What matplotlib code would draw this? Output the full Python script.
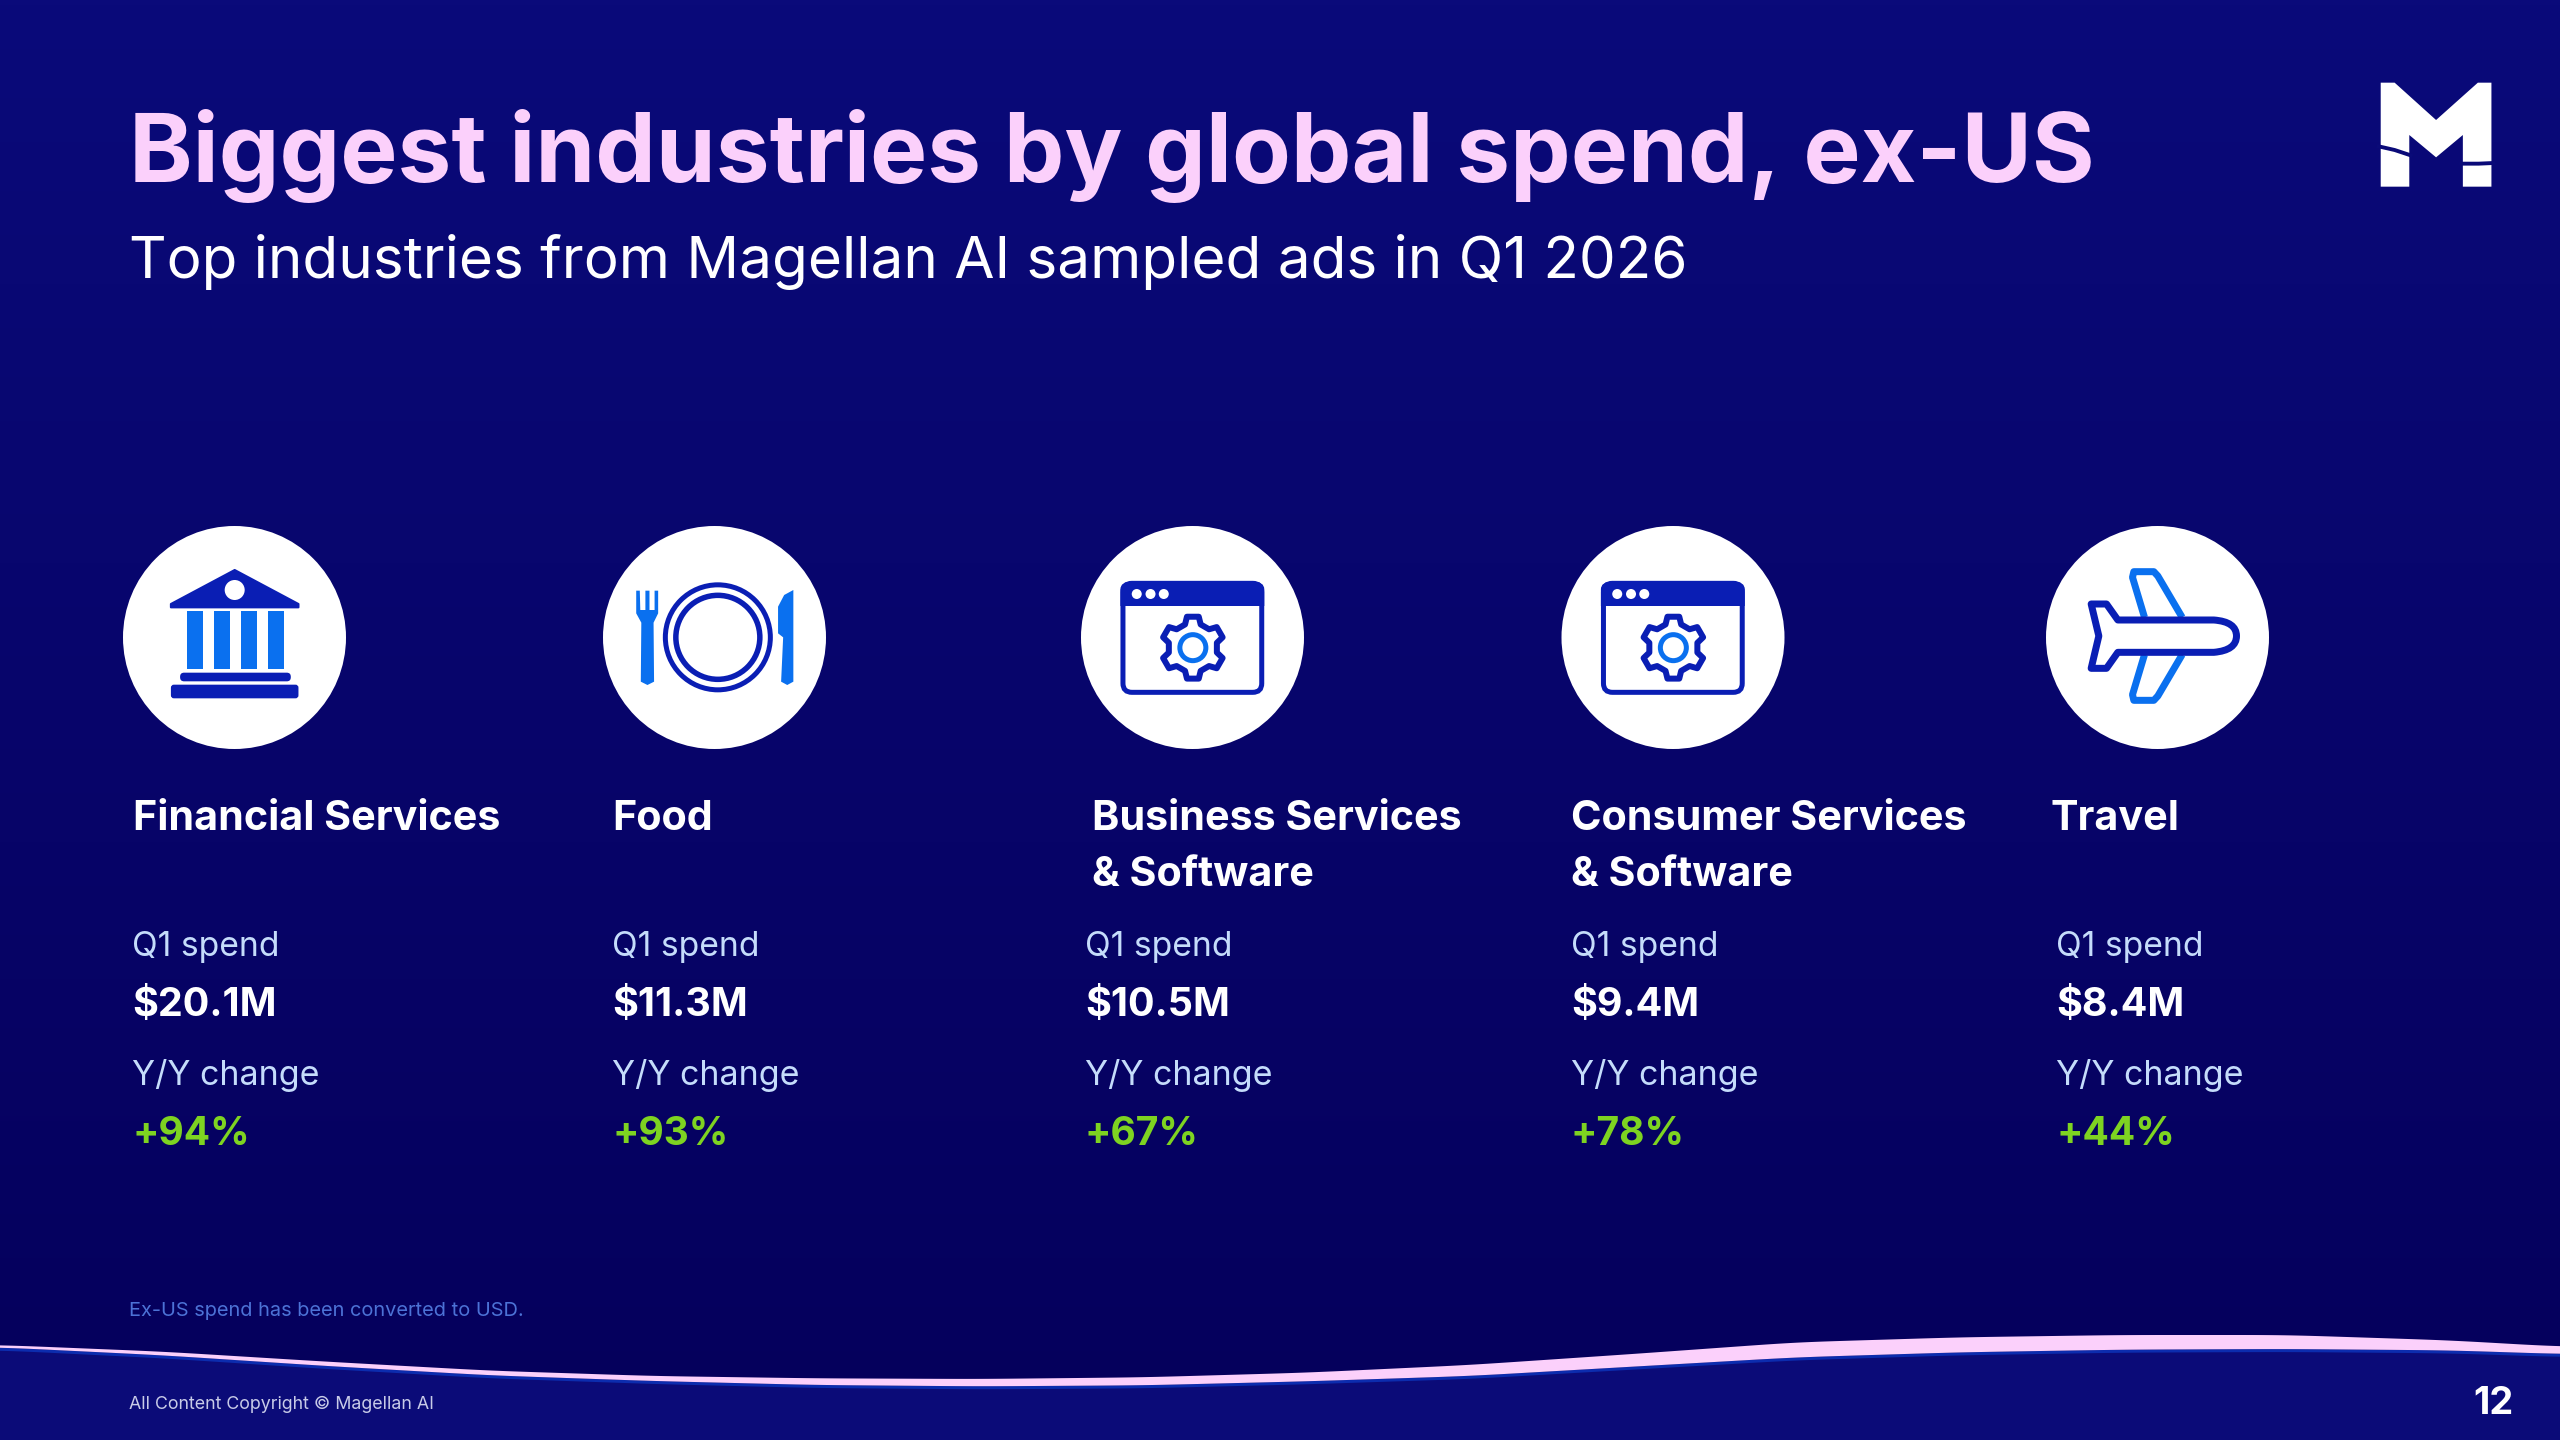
import numpy as np
import matplotlib
matplotlib.use("Agg")
import matplotlib.pyplot as plt
from matplotlib.patches import Circle, Ellipse, Polygon, PathPatch, FancyBboxPatch, Rectangle
from matplotlib.path import Path

# ---------- data ----------
title = "Biggest industries by global spend, ex-US"
subtitle = "Top industries from Magellan AI sampled ads in Q1 2026"
industries = ["Financial Services", "Food", "Business Services\n& Software",
              "Consumer Services\n& Software", "Travel"]
q1_spend_musd = [20.1, 11.3, 10.5, 9.4, 8.4]
yoy_change_pct = [94, 93, 67, 78, 44]
footnote = "Ex-US spend has been converted to USD."
copyright_text = "All Content Copyright © Magellan AI"
page_number = "12"

# ---------- layout (pixels) ----------
W, H = 2560, 1440
circle_cx = [234.5, 714.5, 1192.5, 1673, 2157.5]
name_x = [133, 612, 1092, 1571, 2050]
stat_x = [132, 612, 1085, 1571, 2056]
FONT = "Inter"
BG_TOP, BG_BOTTOM = (10, 10, 122), (5, 0, 92)
FOOT_BG = "#0b0b78"
PINK = "#fbd0fb"
DARK = "#0a1eb4"
LIGHT = "#0a70ef"
GREEN = "#7ed321"
SOFT = "#c5dcfb"

fig = plt.figure(figsize=(25.6, 14.4), dpi=100)
ax = fig.add_axes([0, 0, 1, 1])
ax.set_xlim(0, W)
ax.set_ylim(H, 0)
ax.axis("off")
PX = 0.72  # points per pixel


def fs(px):
    return px * PX


# background gradient
grad = np.linspace(0, 1, 256)[:, None, None]
img = (np.array(BG_TOP) * (1 - grad) + np.array(BG_BOTTOM) * grad) / 255
ax.imshow(img, extent=[0, W, 1400, 0], aspect="auto", zorder=0)
ax.set_xlim(0, W)
ax.set_ylim(H, 0)

# footer wave
wx = np.array([0, 100, 200, 300, 400, 500, 600, 700, 800, 900, 1000, 1100, 1200, 1300, 1400, 1500, 1568]) * 2560 / 1568
wt = 1270 + np.array([225, 245, 275, 302, 318, 325, 327, 322, 308, 285, 252, 217, 202, 195, 195, 211, 230]) / 3
wb = 1270 + np.array([232, 256, 288, 316, 333, 345, 349, 346, 334, 318, 290, 262, 247, 239, 237, 241, 252]) / 3
xs = np.linspace(0, W, 400)
top = np.interp(xs, wx, wt)
bot = np.interp(xs, wx, wb)
k = np.hanning(21); k /= k.sum()
pad = lambda a: np.convolve(np.r_[np.full(10, a[0]), a, np.full(10, a[-1])], k, mode="valid")
top, bot = pad(top), pad(bot)
ax.fill_between(xs, bot, H, color=FOOT_BG, lw=0, zorder=1)
ax.fill_between(xs, bot, bot + 3, color="#0c2cae", lw=0, zorder=1.5)
ax.fill_between(xs, top, bot, color=PINK, lw=0, zorder=2)


def txt(x, y, s, px, color="white", weight="normal", **kw):
    return ax.text(x, y, s, fontsize=fs(px), color=color, fontweight=weight, family=FONT,
                   va="baseline", ha=kw.pop("ha", "left"), zorder=10, **kw)


# logo
def lx(v): return 2000 + v / 2.8
def ly(v): return 40 + v / 3


m = [(1066, 440), (1146, 440), (1146, 285), (1221, 352), (1296, 285), (1296, 440), (1376, 440),
     (1376, 128), (1338, 128), (1221, 240), (1105, 128), (1066, 128)]
ax.add_patch(Polygon([(lx(a), ly(b)) for a, b in m], closed=True, fc="white", lw=0, zorder=5))
ax.plot([lx(1060), lx(1105), lx(1150)], [ly(319), ly(330), ly(346)], color="#0a0a78", lw=2.8, zorder=6)
ax.plot([lx(1292), lx(1340), lx(1382)], [ly(371), ly(371), ly(369)], color="#0a0a78", lw=2.8, zorder=6)


def rrect(x0, y0, x1, y1, r, **kw):
    return FancyBboxPatch((x0 + r, y0 + r), x1 - x0 - 2 * r, y1 - y0 - 2 * r,
                          boxstyle=f"round,pad={r},rounding_size={r}", **kw)


def bank(cx, cy):
    ox, oy = cx - 234, cy - 637.5
    X = lambda v: 100 + v / 1.96 + ox
    Y = lambda v: 500 + v / 3 + oy
    ax.add_patch(Polygon([(X(263), Y(210)), (X(388), Y(312)), (X(388), Y(322)), (X(138), Y(322)), (X(138), Y(312))],
                         closed=True, fc=DARK, ec=DARK, lw=1.5, joinstyle="round", zorder=6))
    ax.add_patch(Ellipse((X(263), Y(270)), 20, 20, fc="white", lw=0, zorder=7))
    for a, b in [(169, 200), (222, 253), (276, 307), (329, 360)]:
        ax.add_patch(Rectangle((X(a), Y(332)), (b - a) / 1.96, 176 / 3, fc=LIGHT, lw=0, zorder=6))
    ax.add_patch(rrect(X(156), Y(518), X(373), Y(544), 4, fc=DARK, lw=0, zorder=6))
    ax.add_patch(rrect(X(138), Y(554), X(388), Y(595), 3, fc=DARK, lw=0, zorder=6))


def food(cx, cy):
    ox, oy = cx - 714, cy - 637.5
    X = lambda v: 100 + v / 1.96 + ox
    Y = lambda v: 500 + v / 3 + oy
    pcx, pcy = X(1210), Y(412)
    ax.add_patch(Circle((pcx, pcy), 52.5, fc="none", ec=DARK, lw=5 * PX, zorder=6))
    ax.add_patch(Circle((pcx, pcy), 42, fc="none", ec=DARK, lw=5.5 * PX, zorder=6))
    fork = [(1050, 272), (1057, 272), (1058, 330), (1068, 330), (1068, 272), (1076, 272), (1076, 330), (1086, 330),
            (1086, 272), (1093, 272), (1093, 340), (1084, 368), (1085, 545), (1072, 555), (1059, 545), (1060, 368), (1050, 340)]
    ax.add_patch(Polygon([(X(a), Y(b)) for a, b in fork], closed=True, fc=LIGHT, lw=0, zorder=6))
    knife = [(1358, 270), (1358, 545), (1346, 555), (1334, 545), (1338, 412), (1328, 400), (1328, 320), (1340, 285)]
    ax.add_patch(Polygon([(X(a), Y(b)) for a, b in knife], closed=True, fc=LIGHT, lw=0, zorder=6))


def gear_points(cx, cy, rout, rin, n=6):
    pts = []
    for i in range(n):
        c = -np.pi / 2 + i * 2 * np.pi / n
        d = np.pi / n
        for off, r in [(-0.62 * d, rin), (-0.36 * d, rout), (0.36 * d, rout), (0.62 * d, rin)]:
            pts.append((cx + r * np.cos(c + off), cy + r * np.sin(c + off)))
    return pts


def window(cx, cy):
    ox, oy = cx - 1192.5, cy - 637.5
    X = lambda v: 1050 + v / 1.96 + ox
    Y = lambda v: 500 + v / 3 + oy
    ax.add_patch(rrect(X(143), Y(250), X(415), Y(577), 9, fc="white", ec=DARK, lw=5 * PX, zorder=6))
    head = Path([(X(138), Y(318)), (X(138), Y(268)), (X(138), Y(245)), (X(160), Y(245)), (X(398), Y(245)), (X(420), Y(245)),
                 (X(420), Y(268)), (X(420), Y(318)), (X(138), Y(318))],
                [Path.MOVETO, Path.LINETO, Path.CURVE3, Path.CURVE3, Path.LINETO, Path.CURVE3, Path.CURVE3, Path.LINETO, Path.CLOSEPOLY])
    ax.add_patch(PathPatch(head, fc=DARK, lw=0, zorder=7))
    for d in (170, 197, 223):
        ax.add_patch(Circle((X(d), Y(282)), 5, fc="white", lw=0, zorder=8))
    gx, gy = X(280), Y(443)
    ax.add_patch(Polygon(gear_points(gx, gy, 31.5, 24.5), closed=True, fc="white", ec=DARK, lw=6 * PX, joinstyle="round", zorder=7))
    ax.add_patch(Circle((gx, gy), 13, fc="white", ec=LIGHT, lw=5 * PX, zorder=8))


def plane(cx, cy):
    ox, oy = cx - 2157, cy - 637.5
    X = lambda v: 2000 + v / 3 + ox
    Y = lambda v: 500 + v / 3 + oy
    for sgn in (1, -1):
        my = lambda v: Y(408 + sgn * (v - 408))
        wing = [(432, 352), (396, 232), (400, 215), (460, 215), (472, 228), (545, 352)]
        ax.plot([X(a) for a, b in wing], [my(b) for a, b in wing], color=LIGHT, lw=7 * PX,
                solid_joinstyle="round", solid_capstyle="butt", zorder=6)
    body = Path([(X(352), Y(360)), (X(640), Y(360)), (X(708), Y(365)), (X(708), Y(408)), (X(708), Y(451)), (X(640), Y(457)),
                 (X(352), Y(457)), (X(318), Y(505)), (X(272), Y(505)), (X(295), Y(408)), (X(272), Y(312)), (X(318), Y(312)), (X(352), Y(360))],
                [Path.MOVETO, Path.LINETO, Path.CURVE3, Path.CURVE3, Path.CURVE3, Path.CURVE3, Path.LINETO, Path.LINETO, Path.LINETO,
                 Path.LINETO, Path.LINETO, Path.LINETO, Path.CLOSEPOLY])
    ax.add_patch(PathPatch(body, fc="white", ec=DARK, lw=7 * PX, joinstyle="round", zorder=7))


icons = [bank, food, window, window, plane]
CY, R = 637.5, 111.5
for cx, icon in zip(circle_cx, icons):
    ax.add_patch(Circle((cx, CY), R, fc="white", lw=0, zorder=4))
    icon(cx, CY)

# text
txt(129, 182, title, 96.2, color=PINK, weight="bold")
txt(129, 278, subtitle, 58.4)

for i, name in enumerate(industries):
    for j, line in enumerate(name.split("\n")):
        txt(name_x[i], 830 + j * 55.5, line, 41.3, weight="bold")
    txt(stat_x[i], 956, "Q1 spend", 33.6, color=SOFT)
    txt(stat_x[i], 1016, f"${q1_spend_musd[i]:.1f}M", 39.5, weight="bold")
    txt(stat_x[i], 1085.5, "Y/Y change", 34, color=SOFT)
    txt(stat_x[i], 1145, f"+{yoy_change_pct[i]}%", 39, color=GREEN, weight="bold")

txt(129, 1315.5, footnote, 20, color="#4c72d6")
txt(129, 1409, copyright_text, 17.8, color="#c8cbe8")
txt(2514, 1414, page_number, 38, weight="bold", ha="right")

fig.savefig("out.png", dpi=100, facecolor="#0a0a7a")
